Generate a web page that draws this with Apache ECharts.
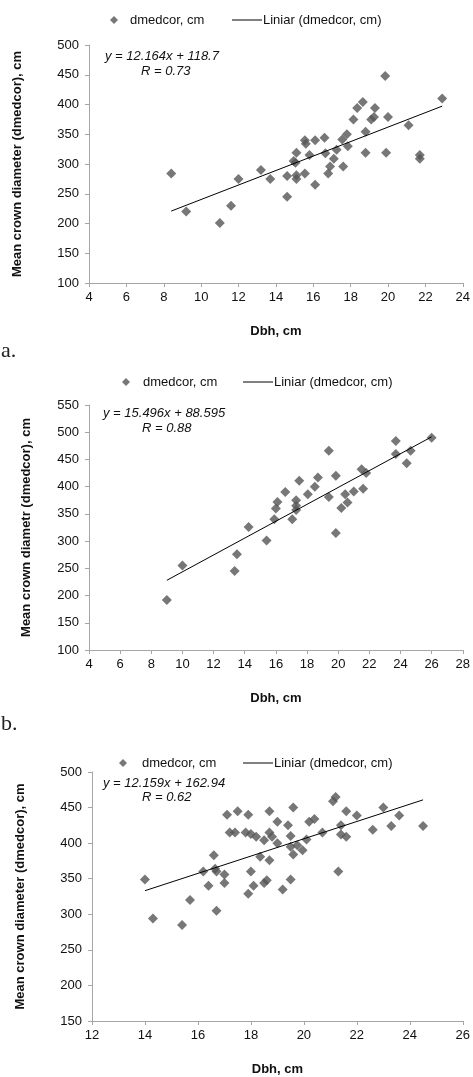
<!DOCTYPE html>
<html><head><meta charset="utf-8">
<script src="https://cdn.jsdelivr.net/npm/echarts@6/dist/echarts.min.js"></script>
<style>html,body{margin:0;padding:0;background:#fff}#c{width:473px;height:1077px}</style>
</head><body><div id="c"></div><script>
// ---- data ----
const seriesName = 'dmedcor, cm';
const trendName = 'Liniar (dmedcor, cm)';
const xTitle = 'Dbh, cm';
const yTitles = ['Mean crown diameter (dmedcor), cm', 'Mean crown diametr (dmedcor), cm', 'Mean crown diameter (dmedcor), cm'];
const panelLabels = ['a.', 'b.'];
const equations = ['y = 12.164x + 118.7', 'y = 15.496x + 88.595', 'y = 12.159x + 162.94'];
const rValues = ['R = 0.73', 'R = 0.88', 'R = 0.62'];
const slopes = [12.164, 15.496, 12.159];
const intercepts = [118.7, 88.595, 162.94];
const xMin = [4, 4, 12], xMax = [24, 28, 26];
const yMin = [100, 100, 150], yMax = [500, 550, 500];
const xStep = 2, yStep = 50;

const pointsA = [[8.4,284],[9.2,220],[11.0,201],[11.6,230],[12.0,275],[13.2,290],[13.7,275],[14.6,280],[14.6,245],
 [14.95,305],[15.05,302],[15.1,281],[15.1,275],[15.1,319],[15.55,284],[15.55,340],[15.6,334],[15.8,315],[16.1,340],
 [16.1,265],[16.6,344],[16.65,318],[16.8,284],[16.9,296],[17.1,309],[17.25,324],[17.55,341],[17.6,296],[17.8,350],
 [17.85,330],[18.15,375],[18.35,394],[18.65,404],[18.8,354],[18.8,319],[19.1,375],[19.25,379],[19.3,394],[19.85,448],
 [19.9,319],[20.0,379],[21.1,365],[21.7,315],[21.7,309],[22.9,410]];
const pointsB = [[9.0,192],[10.0,255],[13.35,245],[13.5,276],[14.25,326],[15.4,301],[15.9,340],[16.0,360],[16.1,372],
 [16.6,390],[17.05,340],[17.3,375],[17.3,365],[17.3,357],[17.5,411],[18.05,386],[18.5,400],[18.7,417],[19.4,466],
 [19.4,381],[19.85,420],[19.85,315],[20.2,361],[20.45,386],[20.6,371],[21.0,391],[21.5,432],[21.6,396],[21.8,425],
 [23.7,484],[23.7,460],[24.4,443],[24.65,466],[26.0,490]];
const pointsC = [[14.0,349],[14.3,294],[15.4,285],[15.7,320],[16.2,360],[16.4,340],[16.6,383],[16.65,364],[16.7,360],
 [16.7,305],[17.0,356],[17.0,344],[17.1,440],[17.2,415],[17.4,415],[17.5,445],[17.8,415],[17.9,440],[17.9,329],
 [18.0,413],[18.0,360],[18.1,340],[18.2,409],[18.35,381],[18.5,404],[18.5,344],[18.6,348],[18.7,445],[18.7,415],
 [18.7,376],[18.8,409],[19.0,430],[19.0,400],[19.2,335],[19.4,425],[19.5,410],[19.5,395],[19.5,349],[19.6,450],
 [19.6,384],[19.75,397],[19.95,390],[20.1,405],[20.2,430],[20.4,434],[20.7,415],[21.1,459],[21.2,465],[21.3,360],
 [21.4,425],[21.4,412],[21.6,445],[21.6,409],[22.0,439],[22.6,419],[23.0,450],[23.3,424],[23.6,439],[24.5,424]];
const panels = [pointsA, pointsB, pointsC];

// ---- layout / style ----
const FONT = '"Liberation Sans", Arial, sans-serif';
const grids = [
  {left: 89, top: 45, width: 374, height: 238},
  {left: 89, top: 405, width: 374, height: 245},
  {left: 92, top: 772, width: 378, height: 250}
];
const yNameGap = [65, 56, 65];
const legendTop = [20, 382, 763];
const legendDiamondX = [114, 126, 123];
const legendDiamondTextGap = [7, 8, 10];
const legendLineX = [232, 243, 243];
const eqPos = [[105, 58, 141, 73], [103, 415, 142, 430], [103, 785, 142, 799]];
const labelTops = [340, 713];
const axisColor = '#a6a6a6';
const markerColor = '#555555';
const LINE_ICON = 'path://M0,0H30V1H0Z';

const option = {
  animation: false,
  backgroundColor: '#fff',
  textStyle: {fontFamily: FONT},
  grid: grids,
  xAxis: grids.map((g, i) => ({
    type: 'value', gridIndex: i, min: xMin[i], max: xMax[i], interval: xStep,
    axisLine: {show: true, onZero: false, lineStyle: {color: axisColor, width: 1}},
    axisTick: {show: true, length: 4, lineStyle: {color: axisColor}},
    splitLine: {show: false},
    axisLabel: {fontSize: 13, color: '#111', margin: 8, fontFamily: FONT, showMinLabel: true, showMaxLabel: true},
    name: xTitle, nameLocation: 'middle', nameGap: 42,
    nameTextStyle: {fontSize: 13, fontWeight: 'bold', color: '#111', fontFamily: FONT}
  })),
  yAxis: grids.map((g, i) => ({
    type: 'value', gridIndex: i, min: yMin[i], max: yMax[i], interval: yStep,
    axisLine: {show: true, onZero: false, lineStyle: {color: axisColor, width: 1}},
    axisTick: {show: true, length: 4, lineStyle: {color: axisColor}},
    splitLine: {show: false},
    axisLabel: {fontSize: 13, color: '#111', margin: 10, fontFamily: FONT, showMinLabel: true, showMaxLabel: true},
    name: yTitles[i], nameLocation: 'middle', nameGap: yNameGap[i],
    nameTextStyle: {fontSize: 13, fontWeight: 'bold', color: '#111', fontFamily: FONT}
  })),
  legend: [],
  series: [],
  graphic: []
};

panels.forEach((pts, i) => {
  option.series.push({
    name: seriesName, type: 'scatter', xAxisIndex: i, yAxisIndex: i,
    symbol: 'diamond', symbolSize: 10,
    itemStyle: {color: markerColor},
    data: pts, z: 2
  });
  const xs = pts.map(p => p[0]);
  const x0 = Math.min(...xs), x1 = Math.max(...xs);
  option.series.push({
    name: trendName, type: 'line', xAxisIndex: i, yAxisIndex: i,
    symbol: 'none', showSymbol: false, silent: true,
    lineStyle: {color: '#000', width: 1},
    itemStyle: {color: '#000'},
    data: [[x0, slopes[i] * x0 + intercepts[i]], [x1, slopes[i] * x1 + intercepts[i]]], z: 3
  });
  option.legend.push({
    data: [{name: seriesName, icon: 'diamond'}], left: legendDiamondX[i] - 4, top: legendTop[i] - 7,
    padding: 0, itemWidth: 8, itemHeight: 8, selectedMode: false, symbolKeepAspect: true,
    itemStyle: {color: markerColor, borderWidth: 0},
    textStyle: {fontSize: 13, color: '#111', fontFamily: FONT, lineHeight: 14, padding: [0, 0, 0, legendDiamondTextGap[i]]}
  });
  option.legend.push({
    data: [{name: trendName, icon: LINE_ICON}], left: legendLineX[i], top: legendTop[i] - 7,
    padding: 0, itemWidth: 30, itemHeight: 14, selectedMode: false, symbolKeepAspect: true,
    itemStyle: {color: '#000', borderWidth: 0},
    textStyle: {fontSize: 13, color: '#111', fontFamily: FONT, lineHeight: 14, padding: [0, 0, 0, -4]}
  });
  const e = eqPos[i];
  option.graphic.push({type: 'text', left: e[0], top: e[1] - 8, silent: true,
    style: {text: equations[i], font: 'italic 13px ' + FONT, fill: '#111'}});
  option.graphic.push({type: 'text', left: e[2], top: e[3] - 8, silent: true,
    style: {text: rValues[i], font: 'italic 13px ' + FONT, fill: '#111'}});
});
panelLabels.forEach((t, i) => {
  option.graphic.push({type: 'text', left: 1, top: labelTops[i], silent: true,
    style: {text: t, font: '22px "Liberation Serif", "Times New Roman", serif', fill: '#222'}});
});

const chart = echarts.init(document.getElementById('c'), null, {renderer: 'canvas'});
chart.setOption(option);
</script></body></html>
